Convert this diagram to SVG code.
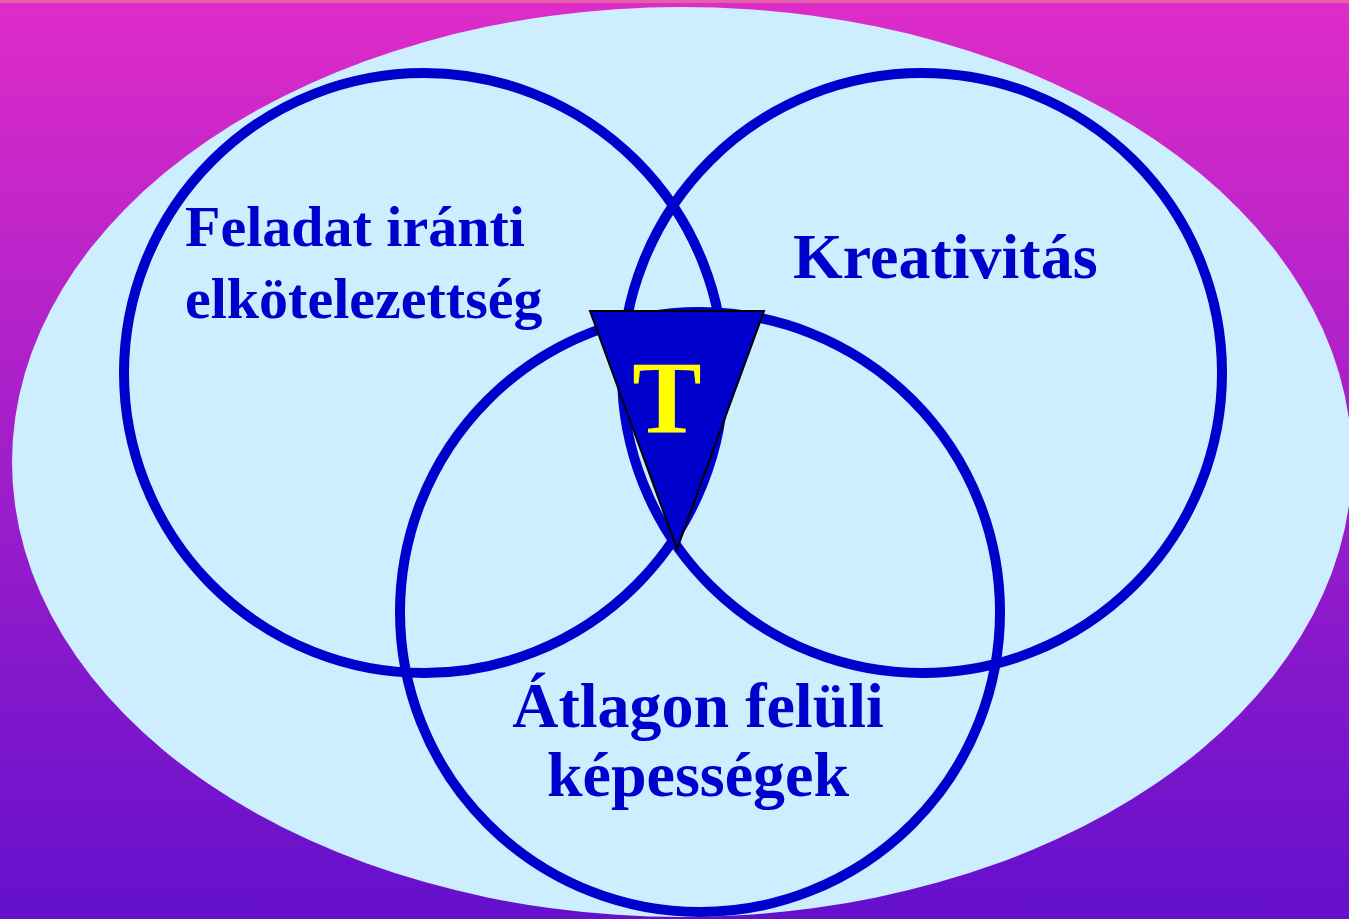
<svg xmlns="http://www.w3.org/2000/svg" width="1349" height="919" viewBox="0 0 1349 919">
<defs>
<linearGradient id="bg" x1="0" y1="0" x2="0" y2="1">
<stop offset="0" stop-color="#de2cc8"/>
<stop offset="1" stop-color="#6410cc"/>
</linearGradient>
<style>
.ring{fill:none;stroke:#0000cc;stroke-width:10}
.lbl{font-family:"Liberation Serif","Times New Roman",serif;font-weight:bold;font-size:64px;fill:#0000cc}
.sm{font-size:58px}
</style>
</defs>
<rect x="0" y="0" width="1349" height="919" fill="url(#bg)"/>
<rect x="0" y="0" width="1349" height="3" fill="#e460a8"/>
<ellipse cx="682" cy="462" rx="670" ry="455" fill="#cceeff"/>
<g id="connectors"/>
<g id="circle-left"><circle class="ring" cx="424" cy="373" r="300"/></g>
<g id="circle-right"><circle class="ring" cx="922" cy="373" r="300"/></g>
<g id="circle-bottom"><circle class="ring" cx="700" cy="612" r="300"/></g>
<g id="label-left"><text class="lbl sm" x="185" y="246">Feladat iránti</text><text class="lbl sm" x="185" y="318">elkötelezettség</text></g>
<g id="label-right"><text class="lbl" x="793" y="278">Kreativitás</text></g>
<g id="label-bottom"><text class="lbl" x="698" y="727" text-anchor="middle">Átlagon felüli</text><text class="lbl" x="698" y="796" text-anchor="middle">képességek</text></g>
<g id="triangle"><polygon points="590,311 764,311 677,549" fill="#0000cc" stroke="#000" stroke-width="2"/>
<text x="667" y="433" text-anchor="middle" font-family="Liberation Serif,Times New Roman,serif" font-weight="bold" font-size="104" fill="#ffff00">T</text></g>
</svg>
